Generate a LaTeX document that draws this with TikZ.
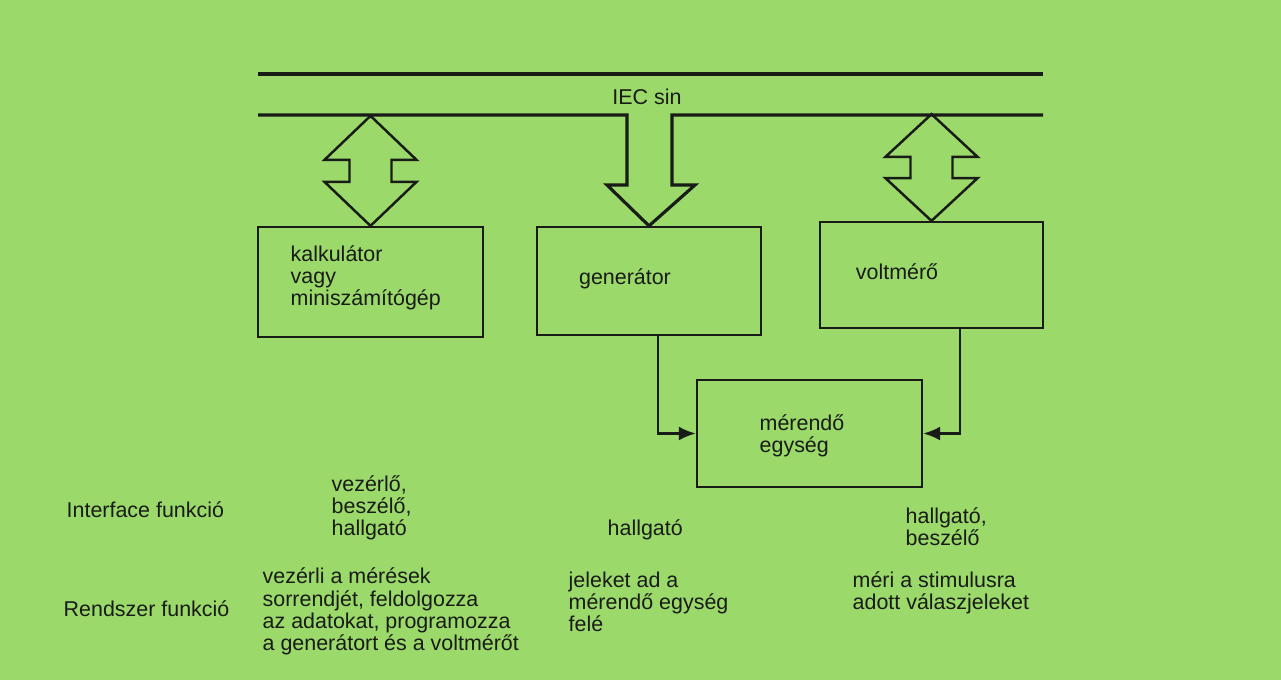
\documentclass[tikz,border=0pt]{standalone}
\usepackage{fontspec}
\setmainfont{Liberation Sans}
\usetikzlibrary{arrows.meta}

\definecolor{lapzold}{RGB}{155,217,107}
\definecolor{tinta}{RGB}{25,28,22}

\tikzset{
  vonal/.style={draw=tinta, line width=0.7pt, line join=miter},
  sin/.style={draw=tinta, line width=0.9pt},
  doboz/.style={draw=tinta, line width=0.65pt, minimum height=1.08cm, inner sep=0pt},
  szoveg/.style={text=tinta, font=\fontsize{6.1}{6.3}\selectfont, align=left, inner sep=0pt},
  nyil/.style={draw=tinta, line width=0.7pt, -{Latex[length=1.7mm,width=1.4mm]}},
  kettosnyil/.pic={
    \draw[vonal] (0,0) -- (-0.46,0.44) -- (-0.21,0.44) -- (-0.21,0.66) -- (-0.46,0.66)
      -- (0,1.10) -- (0.46,0.66) -- (0.21,0.66) -- (0.21,0.44) -- (0.46,0.44) -- cycle;
  }
}

\begin{document}
\begin{tikzpicture}

% Hatter
\fill[lapzold] (0,0) rectangle (12.81,6.80);
\useasboundingbox (0,0) rectangle (12.81,6.80);

% Sin
\draw[sin] (2.58,6.06) -- (10.43,6.06);
\node[szoveg] (iec) at (6.47,5.83) {IEC sin};

% Blokkok
\node[doboz, minimum width=2.25cm, minimum height=1.10cm] (kalk) at (3.705,3.98) {};
\node[doboz, minimum width=2.24cm] (gen) at (6.49,3.99) {};
\node[doboz, minimum width=2.23cm, minimum height=1.06cm] (volt) at (9.315,4.05) {};
\node[doboz, minimum width=2.25cm, minimum height=1.07cm] (meres) at (8.095,2.465) {};

% Feliratok a blokkokban
\node[szoveg, anchor=west] (kalk-t) at (2.90,4.02) {kalkulátor\\vagy\\miniszámítógép};
\node[szoveg] (gen-t) at (6.25,4.01) {generátor};
\node[szoveg] (volt-t) at (8.97,4.08) {voltmérő};
\node[szoveg, anchor=west] (meres-t) at (7.59,2.44) {mérendő\\egység};

% Sin also vonala, benne a generator nyila
\draw[sin] (2.58,5.65) -- (6.27,5.65) -- (6.27,4.95) -- (6.07,4.95) -- (gen.north)
  -- (6.95,4.95) -- (6.72,4.95) -- (6.72,5.65) -- (10.43,5.65);

% Ketiranyu nyilak
\pic at (kalk.north) {kettosnyil};
\pic[yscale=0.97] at (volt.north) {kettosnyil};

% Jelutak a merendo egyseghez
\draw[nyil] ([xshift=0.9mm]gen.south) |- (meres.west);
\draw[nyil] ([xshift=2.85mm]volt.south) |- (meres.east);

% Interface funkciok
\node[szoveg, anchor=west] (if) at (0.66,1.70) {Interface funkció};
\node[szoveg, anchor=west] (if-kalk) at (3.31,1.72) {vezérlő,\\beszélő,\\hallgató};
\node[szoveg, anchor=west] (if-gen) at (6.07,1.50) {hallgató};
\node[szoveg, anchor=west] (if-volt) at (9.05,1.53) {hallgató,\\beszélő};

% Rendszer funkciok
\node[szoveg, anchor=west] (rf) at (0.63,0.71) {Rendszer funkció};
\node[szoveg, anchor=west] (rf-kalk) at (2.62,0.685) {vezérli a mérések\\sorrendjét, feldolgozza\\az adatokat, programozza\\a generátort és a voltmérőt};
\node[szoveg, anchor=west] (rf-gen) at (5.68,0.785) {jeleket ad a\\mérendő egység\\felé};
\node[szoveg, anchor=west] (rf-volt) at (8.52,0.875) {méri a stimulusra\\adott válaszjeleket};

\end{tikzpicture}
\end{document}
